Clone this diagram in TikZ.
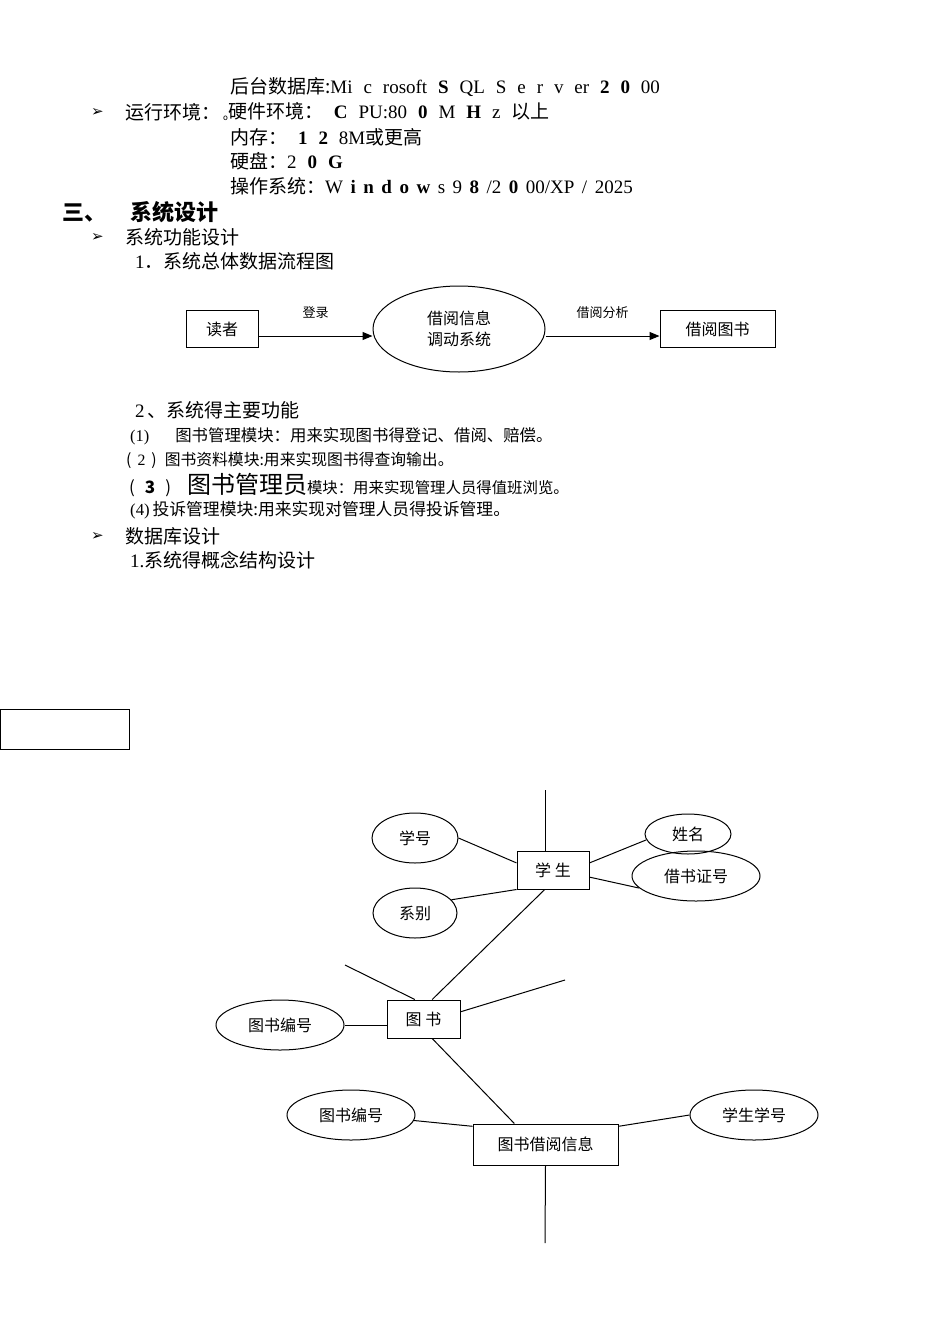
\documentclass[tikz,border=0pt]{standalone}
\usepackage{fontspec}
\setmainfont{Liberation Serif}
\newfontfamily\cjk{Noto Sans CJK SC}
\newfontfamily\spaced{Liberation Serif}[WordSpace=2.3]
\newfontfamily\dingbat{DejaVu Sans}
\usetikzlibrary{shapes.geometric,arrows.meta}

\newcommand{\arrowbullet}{{\dingbat\fontsize{15}{15}\selectfont ➢}}
\newcommand{\lat}[1]{{\spaced #1}}

\begin{document}
\begin{tikzpicture}[x=1pt,y=-1pt,
  body/.style={anchor=west,inner sep=0pt,font=\cjk\fontsize{19}{21}\selectfont},
  item/.style={anchor=west,inner sep=0pt,font=\cjk\fontsize{16.4}{18}\selectfont},
  head/.style={anchor=west,inner sep=0pt,font=\cjk\bfseries\fontsize{22}{24}\selectfont},
  proc/.style={draw,line width=1pt,inner sep=0pt,minimum height=37,font=\cjk\fontsize{16}{18}\selectfont},
  flowell/.style={ellipse,draw,line width=1pt,inner sep=0pt,minimum width=172,minimum height=86,align=center,font=\cjk\fontsize{16}{21}\selectfont},
  flow/.style={-{Triangle[length=10pt,width=8pt]},line width=1pt},
  lbl/.style={inner sep=0pt,font=\cjk\fontsize{13}{15}\selectfont},
  entity/.style={draw,line width=1pt,inner sep=0pt,font=\cjk\fontsize{16}{18}\selectfont},
  attr/.style={ellipse,draw,line width=1pt,inner sep=0pt,font=\cjk\fontsize{16}{18}\selectfont},
  link/.style={line width=1pt}]
\useasboundingbox (0,0) rectangle (950,1344);

% environment
\node[body] (db) at (230,87) {后台数据库:\lat{Mi c rosoft \textbf{S} QL S e r v er \textbf{2 0} 00}};
\node[body] (envb) at (91,112) {\arrowbullet};
\node[body] (env) at (125,112) {运行环境：};
\node[body] (hw) at (223,112) {\raisebox{-2pt}{\fontsize{8}{8}\selectfont o}硬件环境：\lat{ \textbf{C} PU:80 \textbf{0} M \textbf{H} z }以上};
\node[body] (mem) at (230,137) {内存：\lat{ \textbf{1 2} 8M}或更高};
\node[body] (disk) at (230,161) {硬盘：\lat{2 \textbf{0 G}}};
\node[body] (os) at (230,186) {操作系统：{\rmfamily\spaceskip=7.5pt W \textbf{i n d o w} s 9 \textbf{8} /2 \textbf{0} 00/XP / 2025}};

% section
\node[head] (sec) at (62,212) {三、\hspace{24pt}系统设计};
\node[body] (funcb) at (91,237) {\arrowbullet};
\node[body] (func) at (125,237) {系统功能设计};
\node[body] (flowt) at (135,261) {\textrm{1}．系统总体数据流程图};

% flow chart
\node[proc,minimum width=72] (reader) at (222,329) {读者};
\node[flowell] (sys) at (459,329) {借阅信息\\调动系统};
\node[proc,minimum width=115] (books) at (717.5,329) {借阅图书};
\draw[flow] ([yshift=-7pt]reader.east) -- ([yshift=-7pt]sys.west)
  node[lbl,midway,yshift=23pt] {登录};
\draw[flow] ([yshift=-7pt]sys.east) -- ([yshift=-7pt]books.west)
  node[lbl,midway,yshift=23pt] {借阅分析};

% functions
\node[body] (fn) at (135,410) {\textrm{2}\,、系统得主要功能};
\node[item] (f1) at (130,436) {\textrm{(1)}\hspace{26pt}图书管理模块：用来实现图书得登记、借阅、赔偿。};
\node[item,font=\cjk\fontsize{15.8}{18}\selectfont] (f2) at (126,460) {(\hspace{6pt}\textrm{2}\hspace{6pt})\hspace{8pt}图书资料模块:用来实现图书得查询输出。};
\node[item,font=\cjk\fontsize{15.4}{18}\selectfont] (f3) at (129,485) {{\fontsize{17}{20}\selectfont (\hspace{10pt}\textbf{3}\hspace{10pt})}\hspace{16pt}{\fontsize{24}{24}\selectfont 图书管理员}模块：用来实现管理人员得值班浏览。};
\node[item,font=\cjk\fontsize{16.8}{18}\selectfont] (f4) at (130,510) {\textrm{(4)}\,投诉管理模块:用来实现对管理人员得投诉管理。};
\node[body] (dbb) at (91,536) {\arrowbullet};
\node[body] (dbd) at (125,536) {数据库设计};
\node[body] (erd) at (130,560) {\textrm{1.}系统得概念结构设计};

\node[draw,line width=1pt,inner sep=0pt,minimum width=129,minimum height=40,anchor=north west] (blank) at (0,709) {};

% E-R diagram
\node[entity,minimum width=72,minimum height=38] (stu) at (553,870) {学 生};
\node[attr,minimum width=86,minimum height=50] (sno) at (415,838) {学号};
\node[attr,minimum width=86,minimum height=40] (sname) at (688,834) {姓名};
\node[attr,minimum width=128,minimum height=50] (card) at (696,876) {借书证号};
\node[attr,minimum width=84,minimum height=50] (dept) at (415,913) {系别};
\node[entity,minimum width=73,minimum height=38] (book) at (423.5,1019) {图 书};
\node[attr,minimum width=128,minimum height=50] (bno) at (280,1025) {图书编号};
\node[entity,minimum width=145,minimum height=41] (lend) at (545.5,1144.5) {图书借阅信息};
\node[attr,minimum width=128,minimum height=50] (lbno) at (351,1115) {图书编号};
\node[attr,minimum width=128,minimum height=50] (lsno) at (754,1115) {学生学号};

\coordinate (stop) at (545,790);
\coordinate (bl) at (345,965);
\coordinate (br) at (565,980);
\coordinate (lbot) at (545,1243);

\draw[link] (stop) -- (stop |- stu.north);
\draw[link] (sno.east) -- (stu.169);
\draw[link] (sname.188) -- (stu.11);
\draw[link] (card.192) -- (stu.349);
\draw[link] (dept.20) -- (stu.south west);
\draw[link] (stu.247) -- (book.66);
\draw[link] (bl) -- (book.114);
\draw[link] (br) -- (book.11);
\draw[link] (bno.east) -- (bno.east -| book.west);
\draw[link] (book.294) -- (lend.146);
\draw[link] (lbno.-5) -- (lend.166);
\draw[link] (lsno.west) -- (lend.14);
\draw[link] (lend.south) -- (lbot);
\end{tikzpicture}
\end{document}
